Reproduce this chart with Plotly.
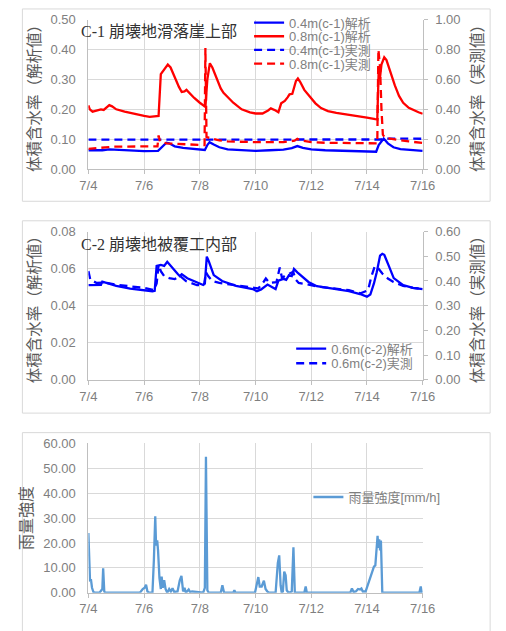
import plotly.graph_objects as go

# ---------------- data (time in days since 7/4 00:00) ----------------
day_ticks = [0, 2, 4, 6, 8, 10, 12]
day_labels = ["7/4", "7/6", "7/8", "7/10", "7/12", "7/14", "7/16"]

# C-1: 0.4 m analysis (left axis)
t_c1_04_sim = [0.0, 0.5, 0.75, 1.0, 1.5, 2.0, 2.5, 2.6, 2.8, 2.9, 3.1, 3.4, 3.8, 4.18, 4.28, 4.35,
               4.5, 4.7, 5.0, 5.5, 6.0, 6.5, 7.0, 7.3, 7.5, 7.7, 8.0, 8.5, 9.0, 9.5, 10.0, 10.33,
               10.42, 10.6, 10.75, 10.95, 11.2, 11.5, 12.0]
c1_04_sim = [0.063, 0.063, 0.066, 0.065, 0.062, 0.060, 0.061, 0.070, 0.088, 0.086, 0.076, 0.071,
             0.068, 0.064, 0.082, 0.090, 0.082, 0.073, 0.066, 0.063, 0.061, 0.063, 0.065, 0.070,
             0.077, 0.071, 0.066, 0.063, 0.061, 0.059, 0.058, 0.058, 0.080, 0.102, 0.086, 0.073,
             0.067, 0.065, 0.061]

# C-1: 0.8 m analysis (left axis)
t_c1_08_sim = [0.0, 0.05, 0.15, 0.3, 0.45, 0.55, 0.65, 0.75, 0.85, 1.0, 1.3, 1.6, 2.0, 2.2, 2.35,
               2.52, 2.6, 2.72, 2.85, 2.95, 3.1, 3.25, 3.35, 3.45, 3.52, 3.65, 3.8, 4.0, 4.2, 4.27,
               4.36, 4.45, 4.6, 4.75, 4.85, 5.0, 5.2, 5.5, 5.8, 6.0, 6.25, 6.45, 6.55, 6.72, 6.82,
               6.92, 7.05, 7.15, 7.22, 7.32, 7.45, 7.52, 7.6, 7.75, 7.95, 8.15, 8.35, 8.6, 8.9,
               9.3, 9.7, 10.0, 10.3, 10.37, 10.42, 10.46, 10.52, 10.62, 10.7, 10.85, 11.0, 11.15,
               11.3, 11.5, 11.7, 11.85, 12.0]
c1_08_sim = [0.213, 0.200, 0.192, 0.196, 0.200, 0.198, 0.205, 0.214, 0.210, 0.200, 0.192, 0.185,
             0.178, 0.175, 0.177, 0.178, 0.318, 0.335, 0.350, 0.340, 0.305, 0.275, 0.258, 0.260,
             0.265, 0.252, 0.238, 0.222, 0.208, 0.300, 0.354, 0.340, 0.305, 0.270, 0.255, 0.240,
             0.222, 0.200, 0.190, 0.186, 0.186, 0.196, 0.203, 0.196, 0.190, 0.220, 0.228, 0.240,
             0.250, 0.252, 0.295, 0.303, 0.292, 0.265, 0.242, 0.220, 0.204, 0.194, 0.188, 0.183,
             0.177, 0.172, 0.167, 0.166, 0.330, 0.300, 0.350, 0.374, 0.365, 0.320, 0.280, 0.245,
             0.222, 0.205, 0.195, 0.190, 0.185]

# C-1: 0.4 m measured (right axis)
t_c1_04_obs = [0.0, 4.2, 4.3, 10.5, 10.6, 12.0]
c1_04_obs = [0.197, 0.197, 0.199, 0.198, 0.204, 0.203]

# C-1: 0.8 m measured (right axis)
t_c1_08_obs = [0.0, 0.3, 0.6, 0.9, 1.5, 2.0, 2.48, 2.52, 2.57, 2.8, 3.2, 3.6, 4.0, 4.17, 4.20,
               4.24, 4.4, 4.7, 5.0, 5.5, 6.0, 6.5, 7.0, 7.4, 7.5, 7.6, 8.0, 8.5, 9.0, 9.5, 10.0,
               10.37, 10.41, 10.47, 10.52, 10.57, 10.65, 11.0, 11.5, 12.0]
c1_08_obs = [0.135, 0.138, 0.145, 0.150, 0.150, 0.150, 0.152, 0.225, 0.185, 0.172, 0.168, 0.165,
             0.162, 0.160, 0.810, 0.215, 0.205, 0.192, 0.185, 0.180, 0.180, 0.180, 0.180, 0.190,
             0.202, 0.192, 0.180, 0.176, 0.175, 0.174, 0.172, 0.172, 0.800, 0.680, 0.400, 0.230,
             0.208, 0.198, 0.185, 0.175]

# C-2: 0.6 m analysis (left axis)
t_c2_sim = [0.0, 0.2, 0.45, 0.5, 0.6, 1.0, 1.5, 2.0, 2.3, 2.38, 2.45, 2.6, 2.72, 2.83, 3.0, 3.2,
            3.28, 3.35, 3.55, 3.9, 4.12, 4.18, 4.25, 4.32, 4.5, 4.8, 5.3, 5.9, 6.05, 6.2, 6.43,
            6.6, 6.72, 6.82, 7.0, 7.1, 7.2, 7.3, 7.38, 7.5, 7.65, 7.9, 8.2, 8.8, 9.35, 9.75,
            10.0, 10.12, 10.25, 10.35, 10.47, 10.55, 10.62, 10.78, 10.96, 11.3, 11.65, 12.0]
c2_sim = [0.0511, 0.0511, 0.0512, 0.0530, 0.0525, 0.0507, 0.0492, 0.0482, 0.0478, 0.0480, 0.0615,
          0.0620, 0.0615, 0.0637, 0.0605, 0.0572, 0.0560, 0.0570, 0.0548, 0.0525, 0.0512, 0.0520,
          0.0665, 0.0640, 0.0565, 0.0533, 0.0507, 0.0490, 0.0478, 0.0488, 0.0514, 0.0500, 0.0490,
          0.0535, 0.0545, 0.0540, 0.0565, 0.0560, 0.0598, 0.0580, 0.0560, 0.0528, 0.0505, 0.0490,
          0.0479, 0.0463, 0.0449, 0.0460, 0.0520, 0.0580, 0.0670, 0.0680, 0.0675, 0.0616, 0.0549,
          0.0511, 0.0496, 0.0489]

# C-2: 0.6 m measured (right axis)
t_c2_obs = [0.0, 0.07, 0.3, 0.6, 1.0, 1.4, 2.0, 2.35, 2.45, 2.52, 2.6, 2.72, 2.9, 3.1, 3.3, 3.5,
            3.9, 4.15, 4.22, 4.3, 4.45, 4.7, 5.0, 5.5, 5.95, 6.1, 6.3, 6.37, 6.5, 6.75, 6.87, 6.95,
            7.05, 7.2, 7.35, 7.45, 7.55, 7.8, 8.2, 8.8, 9.35, 9.77, 10.04, 10.15, 10.28, 10.38,
            10.55, 10.75, 10.95, 11.3, 11.65, 12.0]
c2_obs = [0.440, 0.405, 0.392, 0.394, 0.385, 0.380, 0.372, 0.363, 0.390, 0.465, 0.440, 0.420,
          0.412, 0.408, 0.420, 0.400, 0.383, 0.383, 0.435, 0.420, 0.400, 0.392, 0.387, 0.378,
          0.372, 0.370, 0.398, 0.410, 0.392, 0.395, 0.455, 0.412, 0.420, 0.430, 0.437, 0.405,
          0.392, 0.388, 0.378, 0.370, 0.363, 0.350, 0.363, 0.415, 0.460, 0.455, 0.430, 0.410,
          0.396, 0.380, 0.372, 0.368]

# rainfall intensity [mm/h]
t_rain = [0.00, 0.03, 0.06, 0.09, 0.13, 0.18, 0.25, 0.40, 0.45, 0.50, 0.53, 0.57, 0.60, 1.85,
          1.95, 2.02, 2.07, 2.12, 2.18, 2.30, 2.35, 2.40, 2.43, 2.47, 2.50, 2.55, 2.60, 2.63,
          2.67, 2.72, 2.77, 2.83, 2.90, 2.96, 3.02, 3.08, 3.20, 3.28, 3.34, 3.40, 3.45, 3.50,
          3.60, 3.65, 3.72, 4.12, 4.18, 4.22, 4.27, 4.32, 4.75, 4.81, 4.87, 5.20, 5.24, 5.28,
          5.98, 6.05, 6.10, 6.15, 6.22, 6.30, 6.36, 6.42, 6.48, 6.72, 6.80, 6.85, 6.90, 6.94,
          6.98, 7.03, 7.08, 7.12, 7.18, 7.30, 7.36, 7.41, 7.75, 7.80, 7.84, 9.40, 9.46, 9.52,
          9.60, 9.68, 9.75, 9.80, 9.85, 9.95, 10.02, 10.10, 10.18, 10.25, 10.30, 10.34, 10.38,
          10.41, 10.44, 10.47, 10.50, 10.55, 11.88, 11.93, 11.97, 12.00]
rain = [24.0, 6.5, 4.5, 5.5, 2.0, 0.3, 0.0, 0.0, 1.0, 1.5, 9.8, 0.5, 0.0, 0.0,
        1.5, 2.0, 3.2, 0.5, 0.0, 0.0, 13.0, 30.7, 19.0, 21.0, 17.0, 6.0, 1.5, 6.5,
        2.0, 5.0, 1.5, 0.0, 1.5, 0.5, 1.8, 0.3, 0.5, 5.0, 6.8, 0.5, 2.0, 0.0,
        1.3, 0.3, 0.5, 0.0, 2.0, 54.6, 1.0, 0.0, 0.0, 3.0, 0.0, 0.0, 1.0, 0.0,
        0.0, 3.5, 6.3, 2.5, 2.5, 4.8, 1.5, 0.5, 0.0, 0.0, 12.0, 15.0, 3.0, 0.0,
        0.5, 8.5, 7.0, 1.0, 0.0, 0.5, 18.3, 0.0, 0.0, 2.5, 0.0, 0.0, 1.7, 0.3,
        0.5, 1.5, 1.3, 1.7, 0.5, 0.5, 3.0, 5.0, 8.0, 10.5, 11.0, 16.0, 22.9,
        18.0, 21.5, 17.0, 21.0, 0.0, 0.0, 2.5, 0.0, 0.0]

# ---------------- layout helpers ----------------
W, H = 506, 631


def fx(px):
    return px / W


def fy(py):
    return 1 - py / H


BLUE, RED, RAIN = "#0000FF", "#FF0000", "#5B9BD5"
GRID, AXIS = "#D9D9D9", "#BFBFBF"
TICK_FONT = dict(family="Liberation Sans, Arial, sans-serif", size=13, color="#7F7F7F")
TITLE_FONT = dict(family="Noto Sans CJK JP, sans-serif", size=15.5, color="#595959")
RAIN_TITLE_FONT = dict(family="Noto Sans CJK JP, sans-serif", size=16, color="#595959")
LEG_FONT = dict(family="Liberation Sans, Noto Sans CJK JP, sans-serif", size=13, color="#7F7F7F")
DASH = "8px,5px"
LW = 2.3

fig = go.Figure()

# panel 1 traces
fig.add_trace(go.Scatter(x=t_c1_04_sim, y=c1_04_sim, mode="lines", name="0.4m(c-1)解析",
                         line=dict(color=BLUE, width=LW), xaxis="x", yaxis="y", legend="legend"))
fig.add_trace(go.Scatter(x=t_c1_08_sim, y=c1_08_sim, mode="lines", name="0.8m(c-1)解析",
                         line=dict(color=RED, width=LW), xaxis="x", yaxis="y", legend="legend2"))
fig.add_trace(go.Scatter(x=t_c1_04_obs, y=c1_04_obs, mode="lines", name="0.4m(c-1)実測",
                         line=dict(color=BLUE, width=LW, dash=DASH), xaxis="x", yaxis="y2",
                         legend="legend3"))
fig.add_trace(go.Scatter(x=t_c1_08_obs, y=c1_08_obs, mode="lines", name="0.8m(c-1)実測",
                         line=dict(color=RED, width=LW, dash=DASH), xaxis="x", yaxis="y2",
                         legend="legend4"))

# panel 2 traces
fig.add_trace(go.Scatter(x=t_c2_sim, y=c2_sim, mode="lines", name="0.6m(c-2)解析",
                         line=dict(color=BLUE, width=LW), xaxis="x2", yaxis="y3", legend="legend5"))
fig.add_trace(go.Scatter(x=t_c2_obs, y=c2_obs, mode="lines", name="0.6m(c-2)実測",
                         line=dict(color=BLUE, width=LW, dash=DASH), xaxis="x2", yaxis="y4",
                         legend="legend6"))

# panel 3 trace
fig.add_trace(go.Scatter(x=t_rain, y=rain, mode="lines", name="雨量強度[mm/h]",
                         line=dict(color=RAIN, width=LW), xaxis="x3", yaxis="y5", legend="legend7"))

xdom = [fx(83), fx(432.5)]
p1 = [fy(166), fy(13)]
p2 = [fy(382), fy(230)]
p3 = [fy(600), fy(447)]


def xax(anchor):
    return dict(domain=xdom, anchor=anchor, range=[0, 12], tickmode="array", tickvals=day_ticks,
                ticktext=day_labels, showgrid=True, gridcolor=GRID, gridwidth=1,
                showline=True, linecolor=AXIS, ticks="outside", ticklen=4, tickcolor=AXIS,
                tickfont=TICK_FONT, zeroline=False, fixedrange=True)


def yax(dom, anchor, rng, dtick, title, side="left", overlay=None, grid=True,
        tfont=TITLE_FONT, standoff=8):
    d = dict(anchor=anchor, range=rng, dtick=dtick, tick0=0, tickformat=".2f", side=side,
             showgrid=grid, gridcolor=GRID, gridwidth=1, showline=True, linecolor=AXIS,
             tickfont=TICK_FONT, zeroline=False,
             title=dict(text=title, font=tfont, standoff=standoff), fixedrange=True)
    if side == "right":
        d.update(ticks="outside", ticklen=4, tickcolor=AXIS, ticklabelstandoff=5)
    else:
        d.update(ticks="", ticklabelstandoff=9)
    if overlay:
        d["overlaying"] = overlay
    else:
        d["domain"] = dom
    return d


legend_common = dict(bgcolor="rgba(0,0,0,0)", font=LEG_FONT, xanchor="left", yanchor="middle",
                     borderwidth=0, itemclick=False, itemdoubleclick=False)

fig.update_layout(
    width=W, height=H, margin=dict(l=0, r=0, t=0, b=0),
    paper_bgcolor="white", plot_bgcolor="white",
    xaxis=xax("y"),
    yaxis=yax(p1, "x", [0, 0.5], 0.1, "体積含水率（解析値）", standoff=6),
    yaxis2=yax(None, "x", [0, 1.0], 0.2, "体積含水率（実測値）", side="right", overlay="y",
               grid=False, standoff=12),
    xaxis2=xax("y3"),
    yaxis3=yax(p2, "x2", [0, 0.08], 0.02, "体積含水率（解析値）", standoff=6),
    yaxis4=yax(None, "x2", [0, 0.6], 0.1, "体積含水率（実測値）", side="right", overlay="y3",
               grid=False, standoff=12),
    xaxis3=xax("y5"),
    yaxis5=yax(p3, "x3", [0, 60], 10, "雨量強度", tfont=RAIN_TITLE_FONT, standoff=6),
    legend=dict(x=fx(251), y=fy(16), **legend_common),
    legend2=dict(x=fx(251), y=fy(30), **legend_common),
    legend3=dict(x=fx(251), y=fy(44), **legend_common),
    legend4=dict(x=fx(251), y=fy(58), **legend_common),
    legend5=dict(x=fx(295), y=fy(350), **legend_common),
    legend6=dict(x=fx(295), y=fy(365), **legend_common),
    legend7=dict(x=fx(313), y=fy(502), **legend_common),
    showlegend=True,
)

# chart frames
for top, bottom in [(2, 199), (219, 416), (436, 640)]:
    fig.add_shape(type="rect", xref="paper", yref="paper", x0=fx(14), x1=fx(503),
                  y0=fy(bottom), y1=fy(top), line=dict(color=GRID, width=1), layer="below")

# panel titles
TITLE_TXT_FONT = dict(family="Liberation Serif, Noto Sans CJK JP, serif", size=16, color="#333333")
fig.add_annotation(text="C-1 崩壊地滑落崖上部", xref="paper", yref="paper", x=fx(73), y=fy(25),
                   xanchor="left", yanchor="middle", showarrow=False, font=TITLE_TXT_FONT)
fig.add_annotation(text="C-2 崩壊地被覆工内部", xref="paper", yref="paper", x=fx(73), y=fy(243),
                   xanchor="left", yanchor="middle", showarrow=False, font=TITLE_TXT_FONT)

fig.write_html("out.html")
